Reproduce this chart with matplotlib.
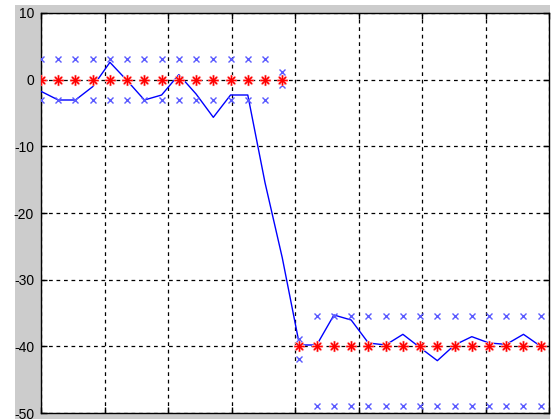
import numpy as np
import matplotlib.pyplot as plt
from matplotlib.patches import Rectangle

plt.rcParams['font.family'] = ['Liberation Sans', 'DejaVu Sans']
plt.rcParams['font.size'] = 10

# sample index along the frequency axis
n = np.arange(30)

# desired response (dB)
desired = [0]*15 + [-40]*15

# upper / lower tolerance marks
upper = [3.1]*14 + [1.1] + [-38.9] + [-35.4]*14
lower = [-3.0]*14 + [-0.8] + [-41.9] + [-49.0]*14

# achieved response (dB)
response = [-1.75, -3.05, -3.05, -1.05, 2.6, -0.15, -3.05, -2.3, 0.75, -2.15,
            -5.65, -2.3, -2.3, -15.45, -26.7, -39.8, -39.8, -35.3, -36.05, -39.5,
            -39.8, -38.2, -40.2, -42.15, -39.8, -38.55, -39.5, -39.7, -38.2, -40.0]

yticks = [10, 0, -10, -20, -30, -40, -50]

fig = plt.figure(figsize=(5.52, 4.19), dpi=100, facecolor='white')
bg = Rectangle((15/552, 0), 535/552, 414/419, transform=fig.transFigure,
               facecolor='#cccccc', edgecolor='none', zorder=-10)
fig.add_artist(bg)
ax = fig.add_axes([41/552, 6/419, 508/552, 400/419])
ax.set_zorder(5)
ax.set_facecolor('white')

ax.plot(n, response, color='blue', lw=1, zorder=3)
ax.plot(n, upper, 'x', color='#5a5aff', ms=5, mew=1, zorder=4)
ax.plot(n, lower, 'x', color='#5a5aff', ms=5, mew=1, zorder=4)
# matlab style asterisk with a soft halo
ax.plot(n, desired, ls='none', marker=(8, 2, 0), color='#ffb0b0', ms=8, mew=1.6, zorder=5)
ax.plot(n, desired, ls='none', marker=(8, 2, 0), color='red', ms=7, mew=0.8, zorder=6)

ax.set_xlim(0, 29.48)
ax.set_ylim(-50, 10)
ax.set_xticks(np.linspace(0, 29.48, 9))
ax.set_xticklabels([])
ax.set_yticks(yticks)
ax.set_yticklabels([str(v) for v in yticks])
ax.tick_params(direction='in', length=4, width=1, top=True, right=True, pad=5,
               labelsize=10, colors='black')
ax.grid(True, color='black', linestyle=(0, (3, 3)), linewidth=0.9)
for s in ax.spines.values():
    s.set_linewidth(1)
    s.set_color('black')

fig.savefig('out.png', dpi=100, facecolor=fig.get_facecolor())
